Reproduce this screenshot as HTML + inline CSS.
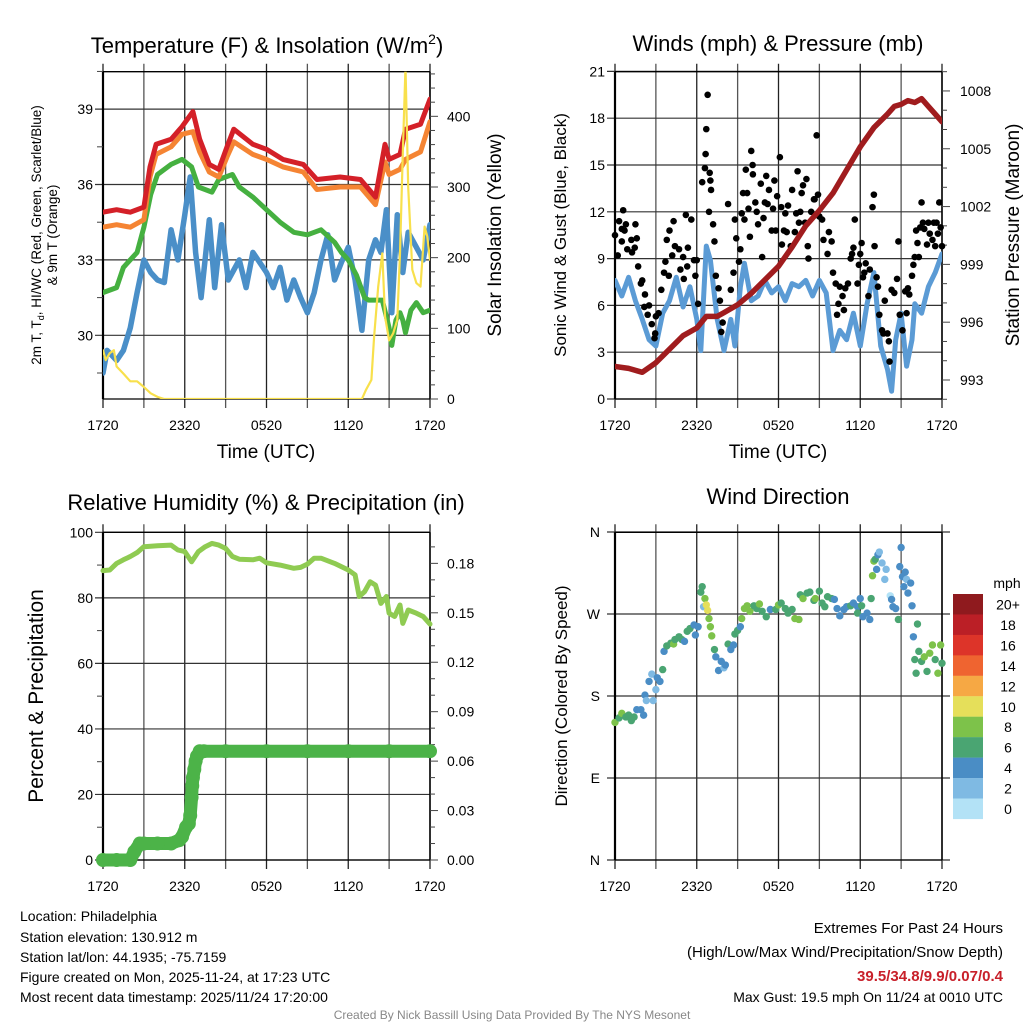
<!DOCTYPE html>
<html><head><meta charset="utf-8"><style>
html,body{margin:0;padding:0;background:#fff;}
svg{display:block;font-family:"Liberation Sans",Arial,sans-serif;}
</style></head><body>
<svg id="fig" width="1024" height="1024" viewBox="0 0 1024 1024" xmlns="http://www.w3.org/2000/svg">
<rect width="1024" height="1024" fill="#fff"/>
<text x="267" y="53" font-size="22" text-anchor="middle">Temperature (F) &amp; Insolation (W/m<tspan font-size="14" dy="-9">2</tspan><tspan dy="9">)</tspan></text>
<text x="778" y="51" font-size="22" text-anchor="middle">Winds (mph) &amp; Pressure (mb)</text>
<text x="266" y="510" font-size="22" text-anchor="middle">Relative Humidity (%) &amp; Precipitation (in)</text>
<text x="778" y="504" font-size="22" text-anchor="middle">Wind Direction</text>

<text transform="translate(41,235) rotate(-90)" font-size="13.5" text-anchor="middle">2m T, T<tspan font-size="9" dy="3">d</tspan><tspan dy="-3">, HI/WC (Red, Green, Scarlet/Blue)</tspan></text>
<text transform="translate(57,235) rotate(-90)" font-size="13.5" text-anchor="middle">&amp; 9m T (Orange)</text>
<text transform="translate(501,235) rotate(-90)" font-size="19" text-anchor="middle">Solar Insolation (Yellow)</text>
<text transform="translate(566,235) rotate(-90)" font-size="17" text-anchor="middle">Sonic Wind &amp; Gust (Blue, Black)</text>
<text transform="translate(1019,235) rotate(-90)" font-size="19" text-anchor="middle">Station Pressure (Maroon)</text>
<text transform="translate(43,696) rotate(-90)" font-size="21" text-anchor="middle">Percent &amp; Precipitation</text>
<text transform="translate(567,696) rotate(-90)" font-size="17" text-anchor="middle">Direction (Colored By Speed)</text>
<text x="266" y="458" font-size="19" text-anchor="middle">Time (UTC)</text>
<text x="778" y="458" font-size="19" text-anchor="middle">Time (UTC)</text>

<g font-size="14">
<text x="20" y="921">Location: Philadelphia</text>
<text x="20" y="942">Station elevation: 130.912 m</text>
<text x="20" y="962">Station lat/lon: 44.1935; -75.7159</text>
<text x="20" y="982">Figure created on Mon, 2025-11-24, at 17:23 UTC</text>
<text x="20" y="1002">Most recent data timestamp: 2025/11/24 17:20:00</text>
</g>
<g font-size="15" text-anchor="end">
<text x="1003" y="933">Extremes For Past 24 Hours</text>
<text x="1003" y="957">(High/Low/Max Wind/Precipitation/Snow Depth)</text>
<text x="1003" y="981" fill="#c8202a" font-weight="bold">39.5/34.8/9.9/0.07/0.4</text>
<text x="1003" y="1002" font-size="14">Max Gust: 19.5 mph On 11/24 at 0010 UTC</text>
</g>
<text x="512" y="1019" font-size="12" fill="#888" text-anchor="middle">Created By Nick Bassill Using Data Provided By The NYS Mesonet</text>
</svg>
<script>
const NS='http://www.w3.org/2000/svg';
const svg=document.getElementById('fig');
function mk(tag,attrs,parent){const e=document.createElementNS(NS,tag);for(const k in attrs)e.setAttribute(k,attrs[k]);(parent||svg).appendChild(e);return e;}

// ---- data ----
const timeLabels=['1720','2320','0520','1120','1720'];
const redT_h=[0,1,2,3,3.45,3.9,5,5.8,6.6,7.1,7.8,8.5,9.1,9.6,11,12,13.2,14.7,15.7,17.4,18.9,20,20.7,21,21.8,22.2,23.3,24];
const redT_v=[34.9,35.0,34.9,35.1,36.7,37.6,37.8,38.3,38.9,37.8,36.8,36.6,37.5,38.2,37.6,37.4,37.0,36.8,36.2,36.3,36.2,35.5,37.6,37.0,37.2,38.2,38.4,39.4];
const orgT_h=[0,1,2,3,3.45,3.9,5,5.8,6.6,7.1,7.8,8.5,9.1,9.6,11,12,13.2,14.7,15.7,17.4,18.9,20,20.7,21,21.8,22.2,23.3,24];
const orgT_v=[34.3,34.4,34.3,34.6,36.3,37.2,37.5,38.0,38.1,37.3,36.5,36.3,37.1,37.7,37.2,37.0,36.7,36.5,35.8,35.9,35.9,35.2,36.9,36.4,36.6,37.0,37.3,38.5];
const grnT_h=[0,1,1.5,2.5,3,3.5,4,5,5.8,6.5,7,8,8.5,9.5,10,11,12,13,14,15,16,17,17.5,18,18.6,19.2,19.5,20.5,21,21.2,21.5,21.8,22,22.2,22.6,23,23.5,24];
const grnT_v=[31.7,31.9,32.7,33.3,34.3,35.6,36.4,36.8,37.0,36.7,35.9,35.7,36.2,36.4,35.9,35.5,35.0,34.5,34.1,34.0,34.2,33.7,33.3,33.0,32.4,31.5,31.4,31.4,30.3,29.6,30.6,30.9,30.6,30.1,31.0,31.3,30.9,31.0];
const bluT_h=[0,0.3,1,1.5,2,2.5,3,3.5,4,4.5,5,5.5,6,6.4,6.8,7.2,7.8,8.2,8.7,9.2,10,10.5,11,12,12.5,13,13.5,14,14.5,15,15.5,16,16.5,17,17.5,18,18.5,19,19.5,20,20.4,20.8,21.2,21.6,22,22.4,23,23.5,24];
const bluT_v=[28.5,29.4,29.0,29.4,30.3,31.7,33.0,32.5,32.2,32.1,34.2,33.0,34.8,36.3,33.3,31.5,34.6,31.9,34.4,32.2,33.0,31.9,33.3,32.5,31.9,32.7,31.4,32.2,31.5,30.9,31.7,33.0,34.0,32.2,32.9,33.5,32.2,30.2,33.0,33.8,33.3,35.0,30.9,34.8,32.5,34.1,33.5,33.0,34.4];
const sol_h=[0,0.2,0.5,0.8,1,1.5,2,2.5,3,3.5,4,4.5,19,19.3,19.7,19.9,20.2,20.5,20.7,21,21.3,21.6,21.8,22,22.2,22.4,22.7,23,23.3,23.6,23.8,24];
const sol_v=[69,55,65,69,46,36,25,25,17,8,3,0,0,13,27,88,159,206,117,83,93,112,206,348,470,300,183,164,159,244,230,197];

const pres_h=[0,1,2,2.2,3,4,5,6,6.7,7.5,8,9,10,11,12,13,14,15,16,17,18,19,20,20.5,21,21.5,22,22.5,23,23.5,24];
const pres_v=[993.7,993.6,993.4,993.5,993.9,994.6,995.3,995.7,996.3,996.3,996.5,996.9,997.5,998.2,998.9,999.9,1001.0,1001.8,1002.7,1003.9,1005.1,1006.1,1006.8,1007.2,1007.3,1007.5,1007.4,1007.6,1007.2,1006.8,1006.4];
const wind_h=[0,0.5,1,1.5,2,2.5,3,3.5,4,4.5,5,5.5,6,6.3,6.7,7,7.5,8,8.5,8.8,9.2,9.5,10,10.5,11,11.5,12,12.5,13,13.5,14,14.5,15,15.5,16,16.5,17,17.5,18,18.5,19,19.5,20,20.3,20.6,21,21.4,21.8,22,22.5,23,23.5,24];
const wind_v=[7.6,6.6,7.8,6.3,5.1,3.8,3.4,5.5,6.3,7.8,5.9,7.2,5.1,3.1,9.8,8.9,5.1,3.1,5.1,3.4,7.2,8.7,6.3,6.6,7.6,6.8,7.2,6.3,7.4,7.2,7.6,6.6,7.6,6.8,3.1,4.4,3.8,5.5,3.4,6.1,8.1,3.4,1.9,0.5,3.8,5.5,2.1,3.8,6.1,5.5,7.2,8.1,9.3];
const gust_h=[0,0.2,0.3,0.5,0.6,0.5,0.8,0.7,0.9,1.2,1.25,1.5,1.6,1.45,1.7,1.9,2.0,2.2,2.15,2.4,2.5,2.7,2.9,2.95,3.0,3.2,3.4,3.6,3.7,3.8,4.0,3.95,4.2,4.3,4.4,4.7,4.8,5.0,5.05,5.2,5.3,5.35,5.6,5.8,5.9,6.0,6.1,6.4,6.6,6.65,6.7,6.8,6.9,6.95,7.0,7.05,7.2,7.3,7.4,7.6,7.7,7.8,7.9,8.3,8.5,8.7,8.8,8.9,9.1,9.2,9.3,9.4,9.5,9.6,9.7,9.8,9.9,10.0,10.1,10.12,10.3,10.4,10.5,10.7,10.8,10.9,11.0,11.1,11.2,11.3,11.5,11.6,11.7,11.8,11.9,12.1,12.2,12.25,12.4,12.5,12.6,12.7,12.9,13.0,13.2,13.3,13.4,13.5,13.6,13.7,13.8,13.95,14.05,14.15,14.2,14.4,14.6,14.65,14.8,14.9,15.0,15.2,15.3,15.6,15.7,15.9,16.0,16.2,16.3,16.4,16.5,16.7,16.8,16.9,17.1,17.3,17.4,17.5,17.6,17.8,17.9,18.0,18.1,18.2,18.3,18.4,18.6,18.7,18.9,19.0,19.05,19.2,19.3,19.4,19.6,19.7,19.8,20.0,20.1,20.15,20.3,20.5,20.7,20.8,20.9,21.1,21.3,21.4,21.5,21.6,21.8,21.9,22.0,22.1,22.2,22.3,22.4,22.5,22.6,22.7,22.9,23.0,23.1,23.3,23.4,23.5,23.6,23.7,23.8,23.9,24];
const gust_v=[10.5,9.2,11.4,10.1,12.1,10.9,11.2,10.8,9.6,10.2,9.4,11.2,10.3,9.7,8.5,7.4,7.6,6.7,5.9,5.4,6.0,4.8,3.9,4.2,5.3,5.5,7.0,8.1,8.8,10.2,10.8,7.9,9.2,11.4,9.8,9.6,8.3,9.1,7.7,11.8,8.5,9.7,11.5,8.9,7.9,8.9,6.1,13.9,14.8,15.7,17.3,19.5,12.0,14.5,14.0,13.4,11.2,10.1,7.9,7.1,6.3,4.3,4.9,12.5,7.0,8.1,11.5,10.3,8.8,9.6,11.9,13.2,11.5,14.7,13.2,12.2,10.4,15.9,15.0,14.4,12.6,12.0,11.2,13.8,9.1,11.6,12.6,14.3,12.5,13.4,10.8,12.2,14.0,10.8,13.0,15.5,12.3,9.9,10.8,11.9,10.7,12.4,9.8,13.4,10.7,11.9,14.6,11.3,12.0,13.2,13.7,11.3,14.1,9.8,9.0,12.0,12.8,12.8,16.9,13.1,11.7,11.5,10.2,9.3,10.7,10.1,8.1,7.4,5.4,6.1,7.2,6.6,5.7,7.1,7.4,9.0,9.3,9.7,11.5,7.4,8.6,9.3,10.0,7.8,8.1,8.7,6.6,8.3,12.3,13.1,9.8,7.8,7.2,5.4,4.4,4.2,6.3,4.2,3.7,2.4,7.0,6.8,7.7,10.1,5.4,4.4,6.9,5.5,7.1,6.7,7.9,8.6,9.1,10.8,10.0,9.1,11.0,12.6,11.3,10.9,9.9,11.3,10.6,10.2,11.3,9.8,11.3,10.6,12.6,11.0,9.8];

const rh_h=[0,0.5,1,1.5,2,2.5,3,4,5,5.5,6,6.5,7,7.5,8,8.5,9,9.5,10,11,11.5,12,13,14,14.5,15,15.5,16,17,18,18.5,18.8,19.2,19.6,20,20.4,20.8,21,21.4,21.8,22,22.4,23,23.5,24];
const rh_v=[88.3,88.5,90.5,91.6,92.6,93.8,95.6,95.9,96.1,94.6,94.1,91.0,94.1,95.6,96.6,96.1,95.1,92.6,91.8,91.6,92.1,90.7,90.0,89.0,89.3,90.3,92.1,92.1,90.5,88.5,87.0,80.4,81.9,84.9,83.9,78.3,80.4,75.3,74.3,77.8,72.2,76.3,75.3,74.3,72.0];
const pcp_h=[0,1,2,2.3,2.7,3,4,5,5.6,5.8,6.1,6.3,6.4,6.5,6.55,6.6,6.7,6.8,6.9,7.1,7.4,9,12,15,18,21,24];
const pcp_v=[0,0,0,0.005,0.01,0.01,0.01,0.01,0.012,0.014,0.02,0.022,0.027,0.038,0.045,0.05,0.055,0.06,0.063,0.066,0.066,0.066,0.066,0.066,0.066,0.066,0.066];

const dir_h=[0,0.3,0.5,0.8,1,1.2,1.4,1.6,1.9,2.1,2.2,2.3,2.5,2.7,2.8,3.0,3.1,3.3,3.5,3.6,3.8,4.1,4.3,4.4,4.7,4.9,5.1,5.3,5.5,5.8,5.9,6.1,6.3,6.4,6.5,6.6,6.7,6.8,6.9,7.0,7.1,7.3,7.4,7.6,7.8,8.0,8.1,8.3,8.5,8.7,8.8,9.0,9.2,9.3,9.5,9.7,9.9,10.2,10.4,10.6,10.8,11.1,11.4,11.8,12.0,12.2,12.5,12.7,13.0,13.2,13.5,13.6,13.8,14.1,14.3,14.6,14.7,15.0,15.2,15.4,15.6,15.9,16.1,16.3,16.5,16.8,17.0,17.3,17.5,17.8,17.8,18.0,18.1,18.2,18.5,18.7,18.8,18.9,19.0,19.1,19.2,19.3,19.4,19.6,19.8,19.9,20.2,20.3,20.4,20.6,20.8,20.9,21.0,21.1,21.2,21.3,21.4,21.5,21.7,21.8,21.9,22.0,22.1,22.2,22.3,22.5,22.7,22.9,23.1,23.3,23.5,23.7,23.9,24];
const dir_v=[151,156,161,157,159,153,157,165,165,159,181,175,196,204,175,187,200,196,209,229,235,238,237,242,245,242,240,251,254,258,247,256,294,300,278,287,280,274,265,256,246,231,223,208,218,211,214,237,231,236,248,252,256,265,276,279,273,279,276,281,273,267,275,275,280,282,276,271,275,265,264,291,287,293,294,285,287,295,282,278,289,287,286,276,268,275,278,279,282,278,271,287,279,267,271,264,287,312,328,330,319,335,338,326,308,319,290,286,278,276,264,322,343,311,300,316,308,293,304,279,245,220,205,259,229,218,223,207,227,236,220,205,236,216];
const dir_s=[8,6,8,6,6,7,6,4,4,4,4,3,4,2,2,2,4,4,6,4,6,6,8,6,6,6,4,6,6,4,4,4,6,6,2,8,10,10,8,8,8,6,4,4,4,2,4,6,4,4,6,6,4,8,8,8,8,6,6,8,6,6,4,6,8,6,6,6,6,8,8,6,8,6,6,6,8,6,6,6,6,6,4,4,4,4,4,6,4,4,6,4,6,4,4,4,6,8,8,6,4,4,2,2,2,2,0,4,4,4,6,4,4,4,4,4,2,4,4,4,4,6,6,6,6,6,8,6,8,8,6,8,8,6];

const cbLabels=['20+','18','16','14','12','10','8','6','4','2','0'];
const cbColors=['#8f1a1e','#bb1f26','#dd3429','#ef6430','#f6a844','#e5df5a','#7dc24a','#4aa572','#4a8dc5','#7fbae3','#b3e2f6'];

// ---- panel geometry ----
const P={x0:103,x1:430};
const Q={x0:615,x1:942};
function xT(h,p){return p.x0+h*(p.x1-p.x0)/24;}
const yTemp=v=>335.3-(v-30)*25.13;
const ySol=v=>399-v*0.7067;
const yWind=v=>399-v*15.6;
const yPres=v=>380-(v-993)*19.27;
const yRH=v=>860-v*3.277;
const yPcp=v=>860-v*1648;
const yDir=v=>860-v*0.9111;
function speedColor(s){let i=Math.min(10,Math.floor(s/2));return cbColors[10-i];}

function line(x1,y1,x2,y2,st,w,name){const l=mk('line',{x1,y1,x2,y2,stroke:st,'stroke-width':w});


return l;}
function label(x,y,t,anchor,size,name){const e=mk('text',{x,y,'font-size':size,'text-anchor':anchor});e.textContent=t;


return e;}

function frame(p,yTop,yBot,gridYs,extraRight){
  for(let h=0;h<=24;h+=3){const x=xT(h,p);
    line(x,yTop-8,x,yBot+9,(h%6==0)?'#222':'#555',1.3,'time-gridline');}
  for(const y of gridYs){line(p.x0-8,y,p.x1+(extraRight||0),y,'#333',1.2,'value-gridline');}
  line(p.x0,yTop,p.x1,yTop,'#000',1.3,'plot-top-border');
  line(p.x0,yBot,p.x1,yBot,'#000',1.3,'plot-bottom-border');
  line(p.x0,yTop,p.x0,yBot,'#000',2.2,'left-axis-line');
  line(p.x1,yTop,p.x1,yBot,'#000',1.5,'right-axis-line');
  for(let i=0;i<5;i++){label(xT(i*6,p),yBot+31,timeLabels[i],'middle',14,'time-tick-label');}
}
function polyline(hs,vs,p,yf,color,w,name,clip){
  const pts=hs.map((h,i)=>xT(h,p).toFixed(1)+','+yf(vs[i]).toFixed(1)).join(' ');
  const pl=mk('polyline',{points:pts,fill:'none',stroke:color,'stroke-width':w,'stroke-linejoin':'round','stroke-linecap':'round'});
  if(clip)pl.setAttribute('clip-path',clip);
  
  
  return pl;
}
const defs=mk('defs',{});
function clipRect(id,x,y,w,h){const c=mk('clipPath',{id},defs);mk('rect',{x,y,width:w,height:h},c);}
clipRect('c1',103,71.7,327,327.3);clipRect('c2',615,71.7,327,327.3);

// ===== Panel 1 =====
frame(P,71.7,399,[30,33,36,39].map(yTemp));
[30,33,36,39].forEach(v=>label(93,yTemp(v)+5,String(v),'end',14,'temperature-tick-label'));
[28.5,31.5,34.5,37.5,40.5].forEach(v=>line(97,yTemp(v),103,yTemp(v),'#444',1,'temperature-minor-tick'));
for(let s=0;s<=460;s+=20){line(430,ySol(s),430+(s%100==0?8:5),ySol(s),'#444',1,'insolation-tick');}
[0,100,200,300,400].forEach(v=>label(447,ySol(v)+5,String(v),'start',14,'insolation-tick-label'));
polyline(bluT_h,bluT_v,P,yTemp,'#4a8fc8',5.5,'heat-index-windchill-line','url(#c1)');
polyline(grnT_h,grnT_v,P,yTemp,'#45b040',5,'dewpoint-line','url(#c1)');
polyline(orgT_h,orgT_v,P,yTemp,'#f58433',5,'temperature-9m-line','url(#c1)');
polyline(redT_h,redT_v,P,yTemp,'#d42028',5,'temperature-2m-line','url(#c1)');
polyline(sol_h,sol_v,P,ySol,'#f8e04c',2.2,'solar-insolation-line','url(#c1)');

// ===== Panel 2 =====
frame(Q,71.7,399,[0,3,6,9,12,15,18,21].map(yWind));
[0,3,6,9,12,15,18,21].forEach(v=>label(605,yWind(v)+5,String(v),'end',14,'wind-tick-label'));
for(let p=992;p<=1009;p++){line(942,yPres(p),942+((p-993)%3==0?8:5),yPres(p),'#444',1,'pressure-tick');}
[993,996,999,1002,1005,1008].forEach(v=>label(960,yPres(v)+5,String(v),'start',14,'pressure-tick-label'));
polyline(wind_h,wind_v,Q,yWind,'#5b9bd5',5,'sonic-wind-line','url(#c2)');
const gg=mk('g',{});


gust_h.forEach((h,i)=>{const c=mk('circle',{cx:xT(h,Q),cy:yWind(gust_v[i]),r:3.3,fill:'#000'},gg);

});
polyline(pres_h,pres_v,Q,yPres,'#a01c1e',5.5,'station-pressure-line','url(#c2)');

// ===== Panel 3 =====
frame(P,532.3,860,[0,20,40,60,80,100].map(yRH));
[0,20,40,60,80,100].forEach(v=>label(93,yRH(v)+5,String(v),'end',14,'humidity-tick-label'));
[10,30,50,70,90].forEach(v=>line(97,yRH(v),103,yRH(v),'#444',1,'humidity-minor-tick'));
for(let k=0;k<=19;k++){const v=k*0.01;line(430,yPcp(v),430+(k%3==0?8:5),yPcp(v),'#444',1,'precip-tick');}
[0,0.03,0.06,0.09,0.12,0.15,0.18].forEach(v=>label(447,yPcp(v)+5,v.toFixed(2),'start',14,'precip-tick-label'));
polyline(rh_h,rh_v,P,yRH,'#8fcb52',5,'relative-humidity-line');
polyline(pcp_h,pcp_v,P,yPcp,'#4cb348',13,'precipitation-band');
pcp_h.forEach((h,i)=>{const c=mk('circle',{cx:xT(h,P),cy:yPcp(pcp_v[i]),r:7,fill:'#4cb348'});

});

// ===== Panel 4 =====
frame(Q,532.3,860,[0,90,180,270,360].map(yDir),8);
['N','E','S','W','N'].forEach((t,i)=>label(600,yDir(i*90)+5,t,'end',14,'direction-tick-label'));
dir_h.forEach((h,i)=>{const c=mk('circle',{cx:xT(h,Q),cy:yDir(dir_v[i]),r:3.7,fill:speedColor(dir_s[i])});

});
label(1007,588,'mph','middle',14,'colorbar-title');
cbColors.forEach((col,i)=>{const r=mk('rect',{x:953,y:594+i*20.45,width:30,height:20.6,fill:col});


label(1008,594+i*20.45+15.5,cbLabels[i],'middle',14,'colorbar-label');});
</script>
</body></html>
